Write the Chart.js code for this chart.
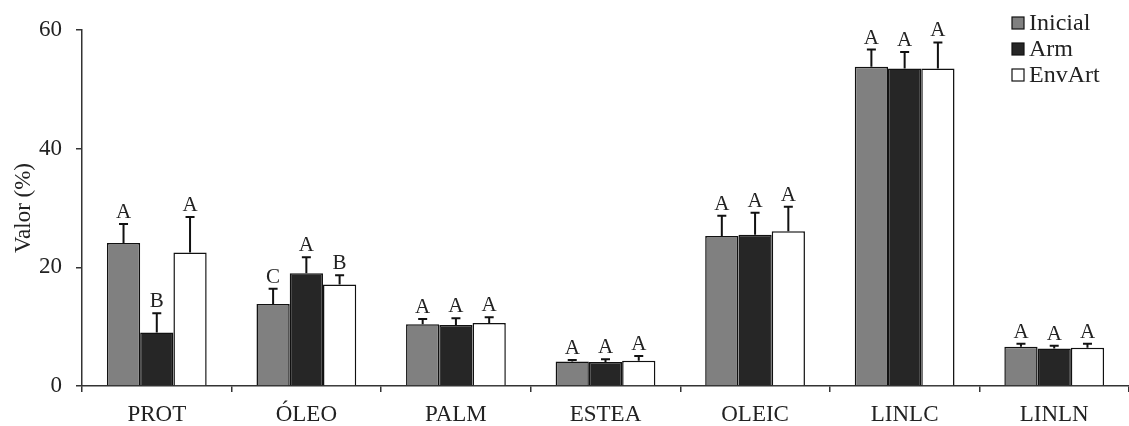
<!DOCTYPE html>
<html>
<head>
<meta charset="utf-8">
<script src="https://cdn.jsdelivr.net/npm/chart.js@4/dist/chart.umd.min.js"></script>
<style>
  html, body { margin: 0; padding: 0; background: #fff; overflow: hidden; }
  #wrap { width: 1129px; height: 426px; position: relative; }
</style>
</head>
<body>
<div id="wrap"><canvas id="c"></canvas></div>
<script>
const categories = ['PROT', 'ÓLEO', 'PALM', 'ESTEA', 'OLEIC', 'LINLC', 'LINLN'];
const seriesNames = ['Inicial', 'Arm', 'EnvArt'];

const inicial = [24.1, 13.8, 10.4, 4.15, 25.3, 53.8, 6.6];
const arm     = [9.0, 19.0, 10.3, 4.05, 25.5, 53.5, 6.3];
const envArt  = [22.5, 17.1, 10.6, 4.25, 26.1, 53.5, 6.45];

const inicialSD = [3.2, 2.6, 0.9, 0.25, 3.4, 2.9, 0.5];
const armSD     = [3.25, 2.7, 1.1, 0.45, 3.7, 2.8, 0.5];
const envArtSD  = [6.0, 1.55, 1.0, 0.8, 4.1, 4.4, 0.65];

const inicialLetters = ['A', 'C', 'A', 'A', 'A', 'A', 'A'];
const armLetters     = ['B', 'A', 'A', 'A', 'A', 'A', 'A'];
const envArtLetters  = ['A', 'B', 'A', 'A', 'A', 'A', 'A'];

const yTicks = [0, 20, 40, 60];

const FONT = '"Liberation Serif", "Times New Roman", serif';
const TEXT = '#222';
const sds = [inicialSD, armSD, envArtSD];
const letters = [inicialLetters, armLetters, envArtLetters];
const fills = ['#808080', '#262626', '#ffffff'];

const errorPlugin = {
  id: 'errorBars',
  afterDatasetsDraw(chart) {
    const ctx = chart.ctx;
    const y = chart.scales.y;
    ctx.save();
    chart.data.datasets.forEach((ds, di) => {
      const meta = chart.getDatasetMeta(di);
      meta.data.forEach((bar, i) => {
        const top = y.getPixelForValue(ds.data[i] + sds[di][i]);
        ctx.strokeStyle = '#111';
        ctx.lineWidth = 2;
        ctx.beginPath();
        ctx.moveTo(bar.x, bar.y);
        ctx.lineTo(bar.x, top);
        ctx.moveTo(bar.x - 4.5, top);
        ctx.lineTo(bar.x + 4.5, top);
        ctx.stroke();
        ctx.fillStyle = TEXT;
        ctx.font = '21px ' + FONT;
        ctx.textAlign = 'center';
        ctx.textBaseline = 'alphabetic';
        ctx.fillText(letters[di][i], bar.x, top - 6);
      });
    });
    ctx.restore();
  }
};

const legendPlugin = {
  id: 'customLegend',
  afterDraw(chart) {
    const ctx = chart.ctx;
    ctx.save();
    chart.data.datasets.forEach((ds, i) => {
      const cy = 23 + i * 26;
      ctx.fillStyle = ds.backgroundColor;
      ctx.fillRect(1012, cy - 6, 12, 12);
      ctx.strokeStyle = '#111';
      ctx.lineWidth = 1.2;
      ctx.strokeRect(1012, cy - 6, 12, 12);
      ctx.fillStyle = TEXT;
      ctx.font = '24px ' + FONT;
      ctx.textAlign = 'left';
      ctx.textBaseline = 'middle';
      ctx.fillText(ds.label, 1029, cy + 1);
    });
    ctx.restore();
  }
};

new Chart(document.getElementById('c'), {
  type: 'bar',
  data: {
    labels: categories,
    datasets: [
      { label: seriesNames[0], data: inicial, backgroundColor: fills[0] },
      { label: seriesNames[1], data: arm, backgroundColor: fills[1] },
      { label: seriesNames[2], data: envArt, backgroundColor: fills[2] }
    ].map(d => Object.assign(d, { borderColor: '#111', borderWidth: 1.5, categoryPercentage: 0.667, barPercentage: 1.0 }))
  },
  options: {
    responsive: true,
    maintainAspectRatio: false,
    animation: false,
    layout: { padding: { top: 30, right: 0, bottom: 0, left: 0 } },
    plugins: {
      legend: { display: false },
      tooltip: { enabled: false }
    },
    scales: {
      x: {
        afterFit(scale) { scale.height = 40; },
        grid: { display: true, offset: true, drawOnChartArea: false, tickLength: 6, color: '#333', lineWidth: 1.5 },
        border: { display: true, color: '#333', width: 1.5 },
        ticks: { color: TEXT, font: { family: FONT, size: 23 }, padding: 9, maxRotation: 0 }
      },
      y: {
        min: 0, max: 60,
        afterBuildTicks(scale) { scale.ticks = yTicks.map(v => ({ value: v })); },
        afterFit(scale) { scale.width = 82; },
        grid: { display: true, drawOnChartArea: false, tickLength: 6, color: '#333', lineWidth: 1.5 },
        border: { display: true, color: '#333', width: 1.5 },
        ticks: { color: TEXT, font: { family: FONT, size: 23 }, padding: 14 },
        title: { display: true, text: 'Valor (%)', color: TEXT, font: { family: FONT, size: 23 }, padding: { top: 10, bottom: 0 } }
      }
    }
  },
  plugins: [errorPlugin, legendPlugin]
});
</script>
</body>
</html>
